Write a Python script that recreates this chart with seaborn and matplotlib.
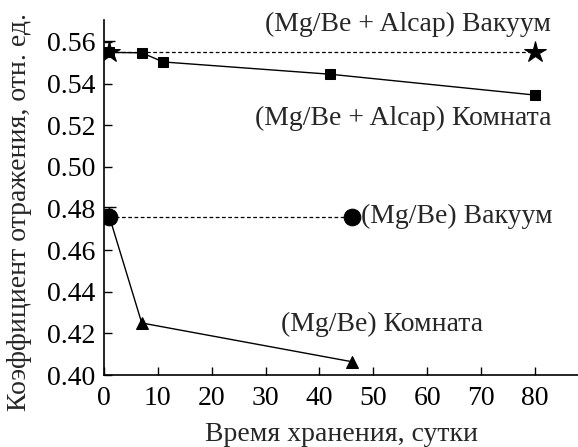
import matplotlib
matplotlib.use("Agg")
import matplotlib.pyplot as plt
import seaborn as sns
import numpy as np

sns.set_style("ticks")
plt.rcParams['font.family'] = ['Liberation Serif', 'DejaVu Serif']

# Data
alcap_room_x = [1, 7, 11, 42, 80]
alcap_room_y = [0.555, 0.5548, 0.5504, 0.5445, 0.5345]
alcap_vac_x = [1, 80]
alcap_vac_y = [0.555, 0.555]
mgbe_room_x = [1, 7, 46]
mgbe_room_y = [0.476, 0.425, 0.4064]
mgbe_vac_x = [1, 46]
mgbe_vac_y = [0.476, 0.476]
# upper error at day 1
alcap_err_up = 0.0053
mgbe_err_up = 0.0045

x_ticks = [0, 10, 20, 30, 40, 50, 60, 70, 80]
y_ticks = [0.40, 0.42, 0.44, 0.46, 0.48, 0.50, 0.52, 0.54, 0.56]

fig = plt.figure(figsize=(5.78, 4.47), dpi=100)
ax = fig.add_axes([0.18, 0.161, 0.82, 0.794])

fs = 20

sns.lineplot(x=alcap_room_x, y=alcap_room_y, ax=ax, color='black', lw=1.0,
             marker='s', markersize=7, markeredgecolor='black', sort=False, zorder=3)
sns.lineplot(x=alcap_vac_x, y=alcap_vac_y, ax=ax, color='black', lw=0.9,
             linestyle=(0, (3, 2)), marker='*', markersize=16, markeredgecolor='black',
             sort=False, zorder=4)
sns.lineplot(x=mgbe_room_x, y=mgbe_room_y, ax=ax, color='black', lw=1.0,
             marker='^', markersize=9, markeredgecolor='black', sort=False, zorder=3)
sns.lineplot(x=mgbe_vac_x, y=mgbe_vac_y, ax=ax, color='black', lw=0.9,
             linestyle=(0, (3, 2)), marker='o', markersize=12, markeredgecolor='black',
             sort=False, zorder=4)

ax.errorbar([alcap_vac_x[0]], [alcap_vac_y[0]], yerr=[[0], [alcap_err_up]],
            fmt='none', ecolor='black', elinewidth=1, capsize=4, zorder=2)
ax.errorbar([mgbe_vac_x[0]], [mgbe_vac_y[0]], yerr=[[0], [mgbe_err_up]],
            fmt='none', ecolor='black', elinewidth=1, capsize=5, zorder=2)

ax.set_xlim(0, 88)
ax.set_ylim(0.40, 0.5705)
ax.set_xticks(x_ticks)
ax.set_yticks(y_ticks)
ax.set_yticklabels([f"{v:.2f}" for v in y_ticks])
ax.tick_params(direction='in', length=6, width=1, labelsize=fs, colors='black', pad=6)
ax.tick_params(axis='x', pad=8)
for s in ['top', 'right']:
    ax.spines[s].set_visible(False)
for s in ['left', 'bottom']:
    ax.spines[s].set_linewidth(1.2)
    ax.spines[s].set_color('black')

ax.set_xlabel("Время хранения, сутки", fontsize=fs, labelpad=8)
ax.set_ylabel("Коэффициент отражения, отн. ед.", fontsize=fs)
ax.yaxis.set_label_coords(-0.152, 0.459)

ax.text(83, 0.5685, "(Mg/Be + Alcap) Вакуум", fontsize=fs, ha='right', va='center')
ax.text(83, 0.5235, "(Mg/Be + Alcap) Комната", fontsize=fs, ha='right', va='center')
ax.text(47.8, 0.4762, "(Mg/Be) Вакуум", fontsize=fs, ha='left', va='center')
ax.text(70.3, 0.4245, "(Mg/Be) Комната", fontsize=fs, ha='right', va='center')

fig.savefig("out.png", dpi=100)
